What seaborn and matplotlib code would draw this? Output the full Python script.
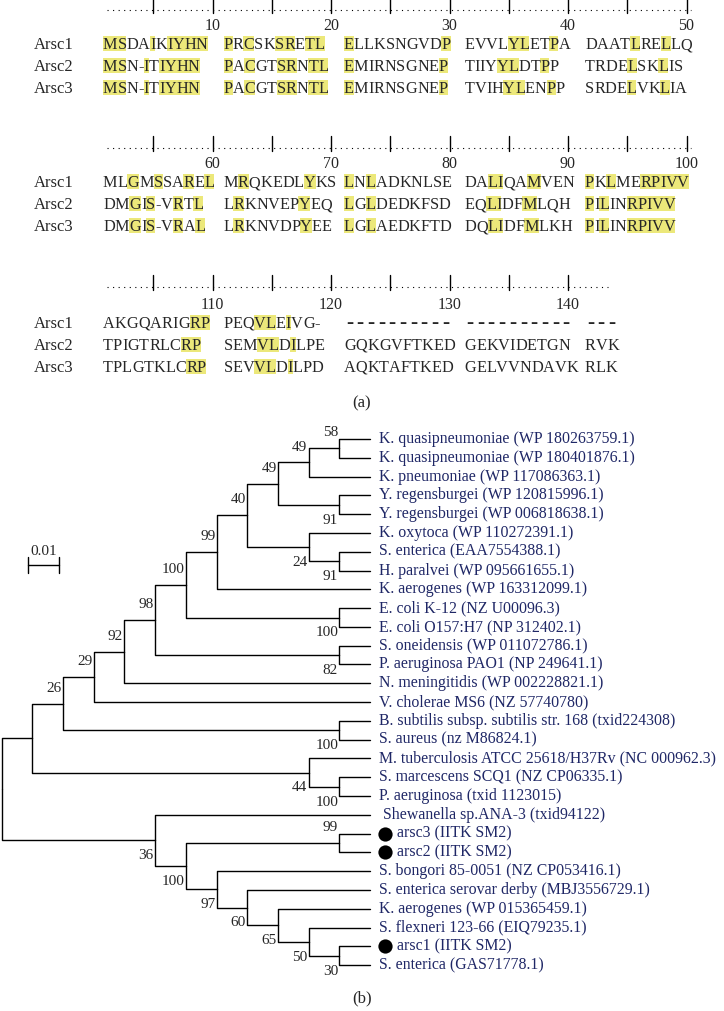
import matplotlib
matplotlib.use('Agg')
import numpy as np
import pandas as pd
import matplotlib.pyplot as plt
import seaborn as sns
from matplotlib.patches import Rectangle
from matplotlib import font_manager

# ---------------- (a) ArsC protein alignment ----------------
seq_names = ['Arsc1', 'Arsc2', 'Arsc3']
arsc1_seq = ('MSDAIKIYHN PRCSKSRETL ELLKSNGVDP EVVLYLETPA DAATLRELLQ '
             'MLGMSSAREL MRQKEDLYKS LNLADKNLSE DALIQAMVEN PKLMERPIVV '
             'AKGQARIGRP PEQVLEIVG- ---------- ---------- ---')
arsc2_seq = ('MSN-ITIYHN PACGTSRNTL EMIRNSGNEP TIIYYLDTPP TRDELSKLIS '
             'DMGIS-VRTL LRKNVEPYEQ LGLDEDKFSD EQLIDFMLQH PILINRPIVV '
             'TPIGTRLCRP SEMVLDILPE GQKGVFTKED GEKVIDETGN RVK')
arsc3_seq = ('MSN-ITIYHN PACGTSRNTL EMIRNSGNEP TVIHYLENPP SRDELVKLIA '
             'DMGIS-VRAL LRKNVDPYEE LGLAEDKFTD DQLIDFMLKH PILINRPIVV '
             'TPLGTKLCRP SEVVLDILPD AQKTAFTKED GELVVNDAVK RLK')
# shaded (conserved) alignment columns, 1-based
highlight_cols = [1, 2, 5, 7, 8, 9, 10, 11, 13, 16, 17, 19, 20, 21, 30,
                  35, 36, 39, 45, 48,
                  53, 55, 58, 60, 62, 68, 71, 73, 83, 84, 87, 91, 93,
                  96, 97, 98, 99, 100,
                  109, 110, 114, 115, 117]

# ---------------- (b) phylogenetic tree ----------------
leaf_labels = [
    'K. quasipneumoniae (WP 180263759.1)',
    'K. quasipneumoniae (WP 180401876.1)',
    'K. pneumoniae (WP 117086363.1)',
    'Y. regensburgei (WP 120815996.1)',
    'Y. regensburgei (WP 006818638.1)',
    'K. oxytoca (WP 110272391.1)',
    'S. enterica (EAA7554388.1)',
    'H. paralvei (WP 095661655.1)',
    'K. aerogenes (WP 163312099.1)',
    'E. coli K-12 (NZ U00096.3)',
    'E. coli O157:H7 (NP 312402.1)',
    'S. oneidensis (WP 011072786.1)',
    'P. aeruginosa PAO1 (NP 249641.1)',
    'N. meningitidis (WP 002228821.1)',
    'V. cholerae MS6 (NZ 57740780)',
    'B. subtilis subsp. subtilis str. 168 (txid224308)',
    'S. aureus (nz M86824.1)',
    'M. tuberculosis ATCC 25618/H37Rv (NC 000962.3)',
    'S. marcescens SCQ1 (NZ CP06335.1)',
    'P. aeruginosa (txid 1123015)',
    ' Shewanella sp.ANA-3 (txid94122)',
    'arsc3 (IITK SM2)',
    'arsc2 (IITK SM2)',
    'S. bongori 85-0051 (NZ CP053416.1)',
    'S. enterica serovar derby (MBJ3556729.1)',
    'K. aerogenes (WP 015365459.1)',
    'S. flexneri 123-66 (EIQ79235.1)',
    'arsc1 (IITK SM2)',
    'S. enterica (GAS71778.1)',
]
marked_leaves = [21, 22, 27]  # isolates from IITK SM2
# topology with bootstrap values, leaves are indices into leaf_labels
tree_newick = ('((((((((((((0,1)58,2)49,(3,4)91)49,(5,(6,7)91)24)40,8)99,'
               '(9,10)100)100,(11,12)82)98,13)92,14)29,(15,16)100)26,'
               '(17,(18,19)100)44),'
               '(20,((21,22)99,(23,(24,(25,(26,(27,28)30)50)65)60)97)100)36);')
scale_label = '0.01'


def parse_newick(s):
    pos = 0

    def node():
        nonlocal pos
        if s[pos] == '(':
            pos += 1
            kids = [node()]
            while s[pos] == ',':
                pos += 1
                kids.append(node())
            pos += 1  # ')'
            start = pos
            while s[pos] not in ',);':
                pos += 1
            return {'children': kids, 'label': s[start:pos]}
        start = pos
        while s[pos] not in ',)':
            pos += 1
        return {'children': [], 'leaf': int(s[start:pos])}
    return node()


def layout(n):
    if not n['children']:
        n['y'], n['h'] = n['leaf'], 0
        return
    for c in n['children']:
        layout(c)
    n['y'] = np.mean([c['y'] for c in n['children']])
    n['h'] = 1 + max(c['h'] for c in n['children'])


sns.set_theme(style='white')
plt.rcParams['font.family'] = ['Liberation Serif', 'DejaVu Serif']

W, H = 724, 1011
fig = plt.figure(figsize=(W / 100, H / 100), dpi=100)
ax = fig.add_axes([0, 0, 1, 1])
ax.set_xlim(0, W)
ax.set_ylim(H, 0)
ax.axis('off')

# glyph advances for proportional letter placement
fs_seq = 11.7
fp = font_manager.FontProperties(family='Liberation Serif', size=fs_seq)
ft = font_manager.get_font(font_manager.findfont(fp))
ft.set_size(fs_seq, 100)


def adv(c):
    return ft.load_char(ord(c)).linearHoriAdvance / 65536


seqs = [s.replace(' ', '') for s in (arsc1_seq, arsc2_seq, arsc3_seq)]
total = len(seqs[0])
hl = set(highlight_cols)
hl_color = '#ece87a'
ruler_y = [10, 148, 287]
row_base = [39, 61, 83]
block_x0, block_step, gap_w = 103, 120.5, 10.7


def ruler_x(p):
    return 94 + 11.85 * p


for li, y_r in enumerate(ruler_y):
    start = li * 50
    n = min(50, total - start)
    ax.plot([ruler_x(1.1), ruler_x(n + 0.4)], [y_r, y_r], color='black',
            lw=0.8, ls=(0, (1, 4)))
    for p in range(5, n + 1, 5):
        ax.plot([ruler_x(p)] * 2, [y_r - 12, y_r + 3], color='black', lw=1.0)
        if p % 10 == 0:
            ax.text(ruler_x(p), y_r + 20 + (2 if li == 2 else 0), str(start + p),
                    ha='center', va='baseline', fontsize=11.5)
    for r, seq in enumerate(seqs):
        yb = y_r + row_base[r] + (2 if li == 2 else 0)
        ax.text(34, yb, seq_names[r], ha='left', va='baseline', fontsize=12)
        for b in range(int(np.ceil(n / 10))):
            chunk = seq[start + b * 10: start + min(b * 10 + 10, n)]
            x = block_x0 + block_step * b
            gap_only = set(chunk) == {'-'}
            for k, c in enumerate(chunk):
                w = gap_w if gap_only else adv(c)
                if (start + b * 10 + k + 1) in hl and c != '-':
                    ax.add_patch(Rectangle((x, yb - 13), w, 15, color=hl_color,
                                           lw=0, zorder=1))
                ax.text(x + w / 2, yb, c, ha='center', va='baseline',
                        fontsize=fs_seq * (1.35 if gap_only else 1.0),
                        fontweight='bold' if gap_only else 'normal', zorder=2)
                x += w

ax.text(362, 403, '(a)', ha='center', va='center', fontsize=12)
ax.text(362, 998, '(b)', ha='center', va='center', fontsize=12)

# ---------------- tree drawing ----------------
root = parse_newick(tree_newick)
layout(root)
root_h = root['h']
unit_px, root_px = 30.7, 1.6
leaf0_px, leaf_step = 439, 18.79
xlim = (-root_px / unit_px, (W - root_px) / unit_px)
ylim = ((H - leaf0_px) / leaf_step, -leaf0_px / leaf_step)

tax = fig.add_axes([0, 0, 1, 1])
tax.patch.set_alpha(0)

segs, boot = [], []


def collect(n):
    d = root_h - n['h']
    for j, c in enumerate(n['children']):
        dc = root_h if not c['children'] else root_h - c['h']
        for xx, yy in [(d, n['y']), (d, c['y']), (dc, c['y'])]:
            segs.append({'x': xx, 'y': yy})
        if c['children'] and c['label']:
            boot.append((dc, c['y'] + (-0.82 if j == 0 else 0.82), c['label']))
        collect(c)


collect(root)
seg_df = pd.DataFrame(segs)
seg_df['seg'] = seg_df.index // 3
sns.lineplot(data=seg_df, x='x', y='y', units='seg', estimator=None, sort=False,
             color='black', lw=1.0, ax=tax, legend=False)

for bx, by, lab in boot:
    tax.text(bx - 0.04, by, lab, ha='right', va='center', fontsize=11)

navy = '#1f2766'
for i, lab in enumerate(leaf_labels):
    off = 27 if i in marked_leaves else 9
    tax.text(root_h + off / unit_px, i, lab, ha='left', va='center',
             fontsize=11.4, color=navy)
sns.scatterplot(x=[root_h + 15 / unit_px] * len(marked_leaves), y=marked_leaves,
                s=105, color='black', linewidth=0, ax=tax, legend=False)

# scale bar (one branch unit)
sb_x, sb_y = 0.86, 6.7
tax.plot([sb_x, sb_x + 1], [sb_y, sb_y], color='black', lw=1.0)
for xx in (sb_x, sb_x + 1):
    tax.plot([xx, xx], [sb_y - 0.43, sb_y + 0.43], color='black', lw=1.0)
tax.text(sb_x + 0.5, sb_y - 0.72, scale_label, ha='center', va='center',
         fontsize=11)

tax.set_xlim(*xlim)
tax.set_ylim(*ylim)
tax.axis('off')

fig.savefig('out.png', dpi=100)
